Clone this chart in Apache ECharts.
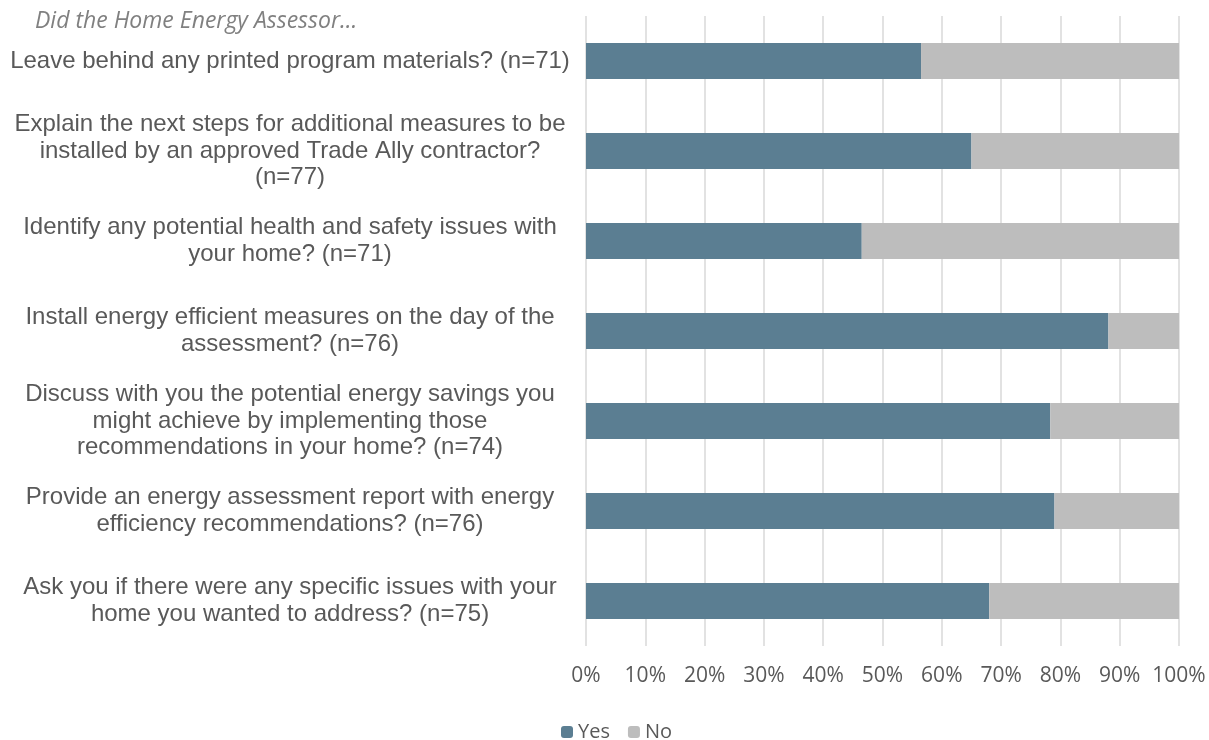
<!DOCTYPE html>
<html lang="en">
<head>
    <meta charset="UTF-8">
    <title>Home Energy Assessor</title>
    <script src="https://cdn.jsdelivr.net/npm/echarts@6/dist/echarts.min.js"></script>
    <style>
        html, body { margin: 0; padding: 0; background: #fff; }
    </style>
</head>
<body>
    <div id="main" style="width: 1209px; height: 740px;"></div>
    <script>
        // questions, top to bottom
        var questions = [
            'Leave behind any printed program materials? (n=71)',
            'Explain the next steps for additional measures to be\ninstalled by an approved Trade Ally contractor?\n(n=77)',
            'Identify any potential health and safety issues with\nyour home? (n=71)',
            'Install energy efficient measures on the day of the\nassessment? (n=76)',
            'Discuss with you the potential energy savings you\nmight achieve by implementing those\nrecommendations in your home? (n=74)',
            'Provide an energy assessment report with energy\nefficiency recommendations? (n=76)',
            'Ask you if there were any specific issues with your\nhome you wanted to address? (n=75)'
        ];
        var yesPct = [56.5, 65.0, 46.5, 88.1, 78.3, 79.0, 68.0];
        var noPct = [43.5, 35.0, 53.5, 11.9, 21.7, 21.0, 32.0];
        var seriesNames = ['Yes', 'No'];

        var myChart = echarts.init(document.getElementById('main'));

        var option = {
            animation: false,
            title: {
                text: 'Did the Home Energy Assessor...',
                left: 30,
                top: 5,
                textStyle: {
                    fontFamily: 'Open Sans',
                    fontStyle: 'italic',
                    fontWeight: 'normal',
                    fontSize: 23,
                    color: '#808080'
                }
            },
            legend: {
                data: seriesNames,
                left: 556,
                top: 717,
                itemWidth: 12,
                itemHeight: 12,
                itemGap: 18,
                textStyle: {
                    fontFamily: 'Open Sans',
                    fontSize: 20,
                    color: '#595959'
                }
            },
            grid: {
                left: 586,
                right: 30,
                top: 16,
                bottom: 94
            },
            xAxis: {
                type: 'value',
                min: 0,
                max: 100,
                interval: 10,
                axisLine: { show: false },
                axisTick: { show: false },
                axisLabel: {
                    formatter: '{value}%',
                    margin: 20,
                    fontFamily: 'Open Sans',
                    fontSize: 21,
                    color: '#595959'
                },
                splitLine: {
                    lineStyle: { color: '#d9d9d9', width: 1.5 }
                }
            },
            yAxis: {
                type: 'category',
                inverse: true,
                data: questions,
                axisLine: { show: false },
                axisTick: { show: false },
                axisLabel: {
                    align: 'center',
                    margin: 296,
                    lineHeight: 26.5,
                    fontFamily: 'Liberation Sans',
                    fontSize: 24,
                    color: '#595959'
                }
            },
            series: [
                {
                    name: 'Yes',
                    type: 'bar',
                    stack: 'all',
                    barWidth: 36,
                    itemStyle: { color: '#5b7e92' },
                    data: yesPct
                },
                {
                    name: 'No',
                    type: 'bar',
                    stack: 'all',
                    barWidth: 36,
                    itemStyle: { color: '#bdbdbd' },
                    data: noPct
                }
            ]
        };

        myChart.setOption(option);
    </script>
</body>
</html>
